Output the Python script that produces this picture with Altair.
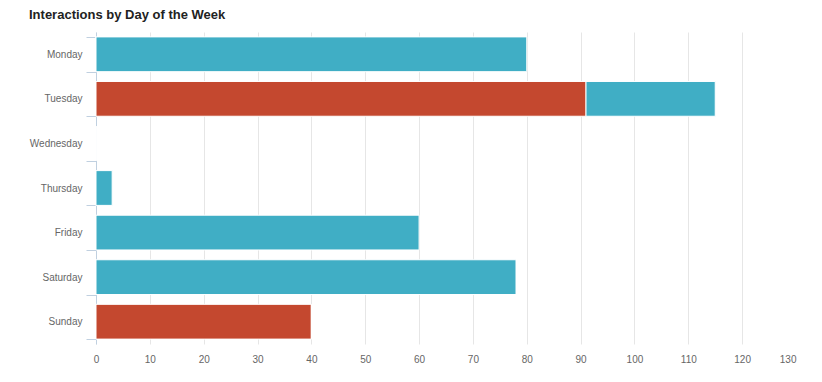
import altair as alt
import pandas as pd

days = ["Monday", "Tuesday", "Wednesday", "Thursday", "Friday", "Saturday", "Sunday"]
series_names = ["Series 1", "Series 2"]
series_red = [0, 91, 0, 0, 0, 0, 40]
series_teal = [80, 24, 0, 3, 60, 78, 0]
x_ticks = [0, 10, 20, 30, 40, 50, 60, 70, 80, 90, 100, 110, 120, 130]
colors = ["#c4482f", "#40aec5"]

rows = []
for i, d in enumerate(days):
    rows.append({"day": d, "series": series_names[0], "value": series_red[i], "ord": 0})
    rows.append({"day": d, "series": series_names[1], "value": series_teal[i], "ord": 1})
df = pd.DataFrame(rows)

chart = (
    alt.Chart(df)
    .mark_bar(stroke="white", strokeWidth=1)
    .encode(
        y=alt.Y(
            "day:N",
            sort=days,
            scale=alt.Scale(domain=days, paddingInner=0.22, paddingOuter=0.11),
            axis=alt.Axis(
                title=None,
                tickBand="extent",
                domainColor="#c0d0e0",
                tickColor="#c0d0e0",
                tickSize=10,
                labelPadding=4,
                labelFontSize=10,
                labelColor="#666666",
                labelFont="Liberation Sans",
                grid=False,
            ),
        ),
        x=alt.X(
            "value:Q",
            stack="zero",
            scale=alt.Scale(domain=[0, 130], nice=False),
            axis=alt.Axis(
                title=None,
                values=x_ticks,
                domain=False,
                ticks=False,
                grid=True,
                gridColor="#e6e6e6",
                gridOpacity=alt.ExprRef("datum.value >= 130 ? 0 : 1"),
                labelAlign=alt.ExprRef("datum.value >= 130 ? 'right' : 'center'"),
                labelPadding=10,
                labelFontSize=10,
                labelColor="#666666",
                labelFont="Liberation Sans",
            ),
        ),
        color=alt.Color(
            "series:N",
            scale=alt.Scale(domain=series_names, range=colors),
            legend=None,
        ),
        order=alt.Order("ord:Q"),
    )
    .properties(
        width=700,
        height=312,
        autosize=alt.AutoSizeParams(type="none"),
        padding={"left": 88, "top": 24, "right": 18, "bottom": 30},
        title=alt.TitleParams(
            "Interactions by Day of the Week",
            anchor="start",
            frame="group",
            dx=-67,
            offset=0,
            dy=5,
            baseline="alphabetic",
            font="Liberation Sans",
            fontSize=13,
            fontWeight="bold",
            color="#222222",
        ),
    )
    .configure_view(stroke=None)
)

chart.save("out.html", embed_options={"renderer": "svg", "actions": False})
